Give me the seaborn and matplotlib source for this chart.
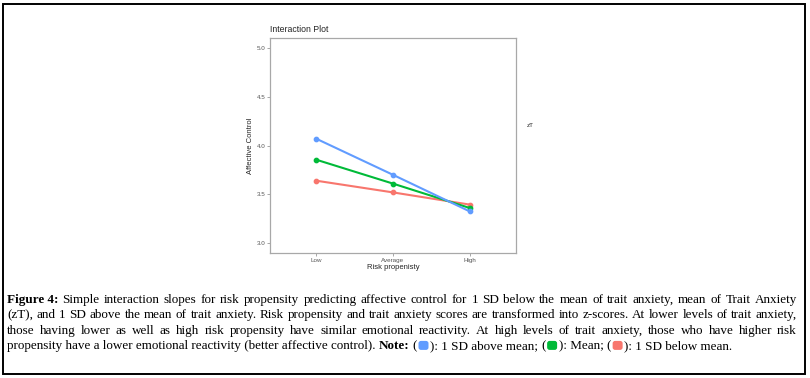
import pandas as pd
import matplotlib
matplotlib.use("Agg")
import matplotlib.pyplot as plt
from matplotlib.patches import Rectangle, FancyBboxPatch
from matplotlib.transforms import IdentityTransform
import seaborn as sns

# data
RISK_LEVELS = ["Low", "Average", "High"]
ZT_GROUPS = ["-1 SD", "Mean", "+1 SD"]
BELOW_MEAN = [3.64, 3.52, 3.395]
AT_MEAN = [3.855, 3.61, 3.36]
ABOVE_MEAN = [4.07, 3.70, 3.325]
Y_TICKS = [3.0, 3.5, 4.0, 4.5, 5.0]
PALETTE = {"-1 SD": "#F8766D", "Mean": "#00BA38", "+1 SD": "#619CFF"}

CAPTION = [
    [[("Figure 4:", "bold")], "Simple interaction slopes for risk propensity predicting affective control for 1 SD below the mean of trait anxiety, mean of Trait Anxiety"],
    [[], "(zT), and 1 SD above the mean of trait anxiety. Risk propensity and trait anxiety scores are transformed into z-scores. At lower levels of trait anxiety,"],
    [[], "those having lower as well as high risk propensity have similar emotional reactivity. At high levels of trait anxiety, those who have higher risk"],
]
LAST_LINE = "propensity have a lower emotional reactivity (better affective control)."
NOTE_ITEMS = [("+1 SD", "1 SD above mean;"), ("Mean", "Mean;"), ("-1 SD", "1 SD below mean.")]

W, H = 810, 378
frame = pd.DataFrame({
    "risk": RISK_LEVELS * 3,
    "zT": [g for g in ZT_GROUPS for _ in RISK_LEVELS],
    "ac": BELOW_MEAN + AT_MEAN + ABOVE_MEAN,
})

sns.set_style("white")
plt.rcParams["font.family"] = ["Liberation Sans", "DejaVu Sans"]

fig = plt.figure(figsize=(W / 100, H / 100), dpi=100)
ax = fig.add_axes([270 / W, 1 - 253 / H, (516 - 270) / W, (253 - 38) / H])

sns.pointplot(data=frame, x="risk", y="ac", hue="zT", order=RISK_LEVELS,
              hue_order=ZT_GROUPS, palette=PALETTE, markers="o",
              markersize=3.0, linewidth=1.5, legend=False, ax=ax)

ax.set_xlim(-0.6, 2.6)
ax.set_ylim(2.9, 5.1)
ax.set_yticks(Y_TICKS)
ax.set_yticklabels([f"{t:.1f}" for t in Y_TICKS])
ax.tick_params(axis="both", labelsize=4.5, labelcolor="#555555", color="#999999",
               length=2, width=0.6, pad=1.5, left=True, bottom=True)
for s in ax.spines.values():
    s.set_color("#A8A8A8")
    s.set_linewidth(0.9)
ax.set_xlabel("Risk propenisty", fontsize=5.5, labelpad=0.5)
ax.set_ylabel("Affective Control", fontsize=5.5, labelpad=2)
ax.set_title("Interaction Plot", fontsize=6.3, loc="left", pad=4)
fig.text(527 / W, 1 - 126 / H, "zT", fontsize=4.5, va="center")

# outer frame
fig.patches.append(Rectangle((3 / W, 1 - 374 / H), 802 / W, 370 / H,
                             transform=fig.transFigure, fill=False,
                             edgecolor="black", linewidth=1.4))

# caption, laid out word by word so it can be justified
fig.canvas.draw()
renderer = fig.canvas.get_renderer()
X0, X1 = 7, 797
BOX_W = 12
cap_size = 10.0


def width_of(s, weight):
    t = fig.text(0, 0, s, fontweight=weight, fontsize=cap_size, family="Liberation Serif")
    w = t.get_window_extent(renderer).width
    t.remove()
    return w


def groups_of(lead, rest):
    words = [lead] if lead else []
    return words + [[(w, "normal")] for w in rest.split()]


def group_width(group):
    return sum(BOX_W + 1 if p[0] == "BOX" else width_of(p[0], p[1]) for p in group)


def natural(words):
    space = width_of("a a", "normal") - width_of("aa", "normal")
    return sum(group_width(g) for g in words) + space * (len(words) - 1)


# fit the font size so the longest justified line only just fills the width
widest = max(natural(groups_of(*c)) for c in CAPTION)
cap_size = cap_size * (X1 - X0 - 4) / widest
SPACE = width_of("a a", "normal") - width_of("aa", "normal")


def draw_line(y, words, justify):
    widths = [group_width(g) for g in words]
    gap = SPACE
    if justify and len(words) > 1:
        gap = (X1 - X0 - sum(widths)) / (len(words) - 1)
    x = X0
    for group, gw in zip(words, widths):
        for text, style in group:
            if text == "BOX":
                fig.patches.append(FancyBboxPatch((x + 1.5, H - y - 1), BOX_W - 2, 9,
                                                  boxstyle="round,pad=0,rounding_size=2.5",
                                                  transform=IdentityTransform(),
                                                  facecolor=style, edgecolor="none"))
                x += BOX_W + 1
            else:
                fig.text(x / W, 1 - y / H, text, fontweight=style, va="baseline",
                         fontsize=cap_size, family="Liberation Serif", color="black")
                x += width_of(text, style)
        x += gap


base = 303
for i, c in enumerate(CAPTION):
    draw_line(base + i * 15.3, groups_of(*c), True)

# last line is not justified: keep whole phrases as single strings
last = [[(LAST_LINE, "normal")], [("Note:", "bold")]]
for key, label in NOTE_ITEMS:
    last.append([("(", "normal"), ("BOX", PALETTE[key]), ("): " + label, "normal")])
draw_line(base + 3 * 15.3, last, False)

fig.savefig("out.png", dpi=100)
